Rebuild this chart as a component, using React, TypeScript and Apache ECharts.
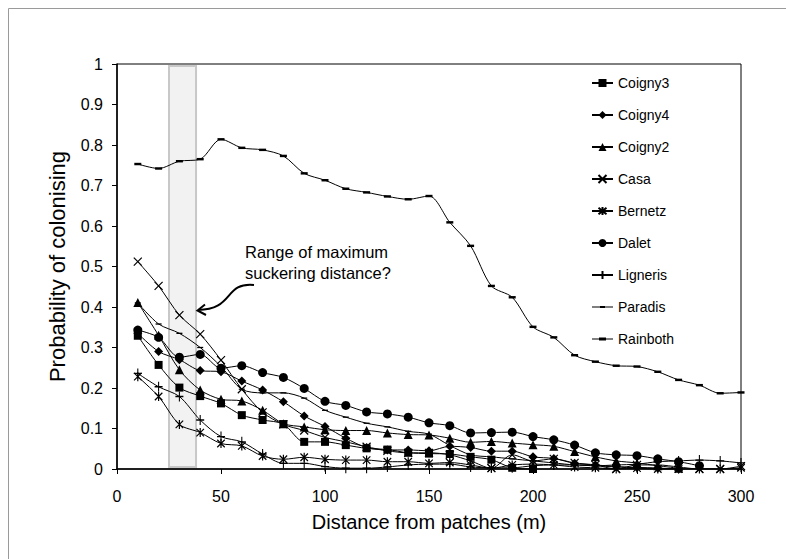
import React, { useEffect, useRef } from "react";
import * as echarts from "echarts";

const distances = [10, 20, 30, 40, 50, 60, 70, 80, 90, 100, 110, 120, 130, 140, 150, 160, 170, 180, 190, 200, 210, 220, 230, 240, 250, 260, 270, 280, 290, 300];

const coigny3 = [0.329, 0.257, 0.201, 0.18, 0.162, 0.133, 0.121, 0.111, 0.067, 0.067, 0.059, 0.051, 0.048, 0.04, 0.038, 0.037, 0.03, 0.023, 0.003, 0.0, null, null, null, null, null, null, null, null, null, null];
const coigny4 = [0.335, 0.29, 0.27, 0.243, 0.24, 0.217, 0.195, 0.166, 0.131, 0.105, 0.076, 0.053, 0.047, 0.047, 0.045, 0.056, 0.053, 0.044, 0.044, 0.03, 0.026, 0.014, 0.01, 0.006, 0.004, 0.002, 0.0, null, null, null];
const coigny2 = [0.411, 0.33, 0.245, 0.195, 0.172, 0.168, 0.145, 0.112, 0.104, 0.097, 0.095, 0.095, 0.089, 0.085, 0.084, 0.076, 0.066, 0.068, 0.064, 0.06, 0.056, 0.043, 0.03, 0.02, 0.015, 0.008, 0.002, null, null, null];
const casa = [0.512, 0.452, 0.38, 0.333, 0.269, 0.197, 0.14, 0.11, 0.095, 0.078, 0.067, 0.055, 0.045, 0.04, 0.04, 0.035, 0.02, 0.002, 0.035, 0.02, 0.025, 0.015, 0.01, 0.0, 0.01, 0.01, 0.005, 0.0, 0.0, 0.007];
const bernetz = [0.228, 0.179, 0.11, 0.09, 0.063, 0.057, 0.032, 0.024, 0.029, 0.024, 0.022, 0.022, 0.018, 0.018, 0.014, 0.016, 0.01, 0.002, 0.01, 0.012, 0.01, 0.005, 0.003, 0.0, 0.002, 0.0, 0.0, 0.0, 0.0, 0.003];
const dalet = [0.343, 0.325, 0.276, 0.283, 0.249, 0.255, 0.238, 0.226, 0.199, 0.167, 0.157, 0.141, 0.136, 0.128, 0.114, 0.107, 0.089, 0.09, 0.091, 0.08, 0.072, 0.059, 0.04, 0.035, 0.033, 0.025, 0.018, 0.008, null, null];
const ligneris = [0.236, 0.203, 0.179, 0.121, 0.08, 0.067, 0.037, 0.014, 0.014, 0.006, 0.002, 0.002, 0.005, 0.01, 0.012, 0.012, 0.005, 0.003, 0.003, 0.008, 0.01, 0.01, 0.008, 0.01, 0.012, 0.018, 0.02, 0.022, 0.02, 0.015];
const paradis = [0.41, 0.358, 0.335, 0.3, 0.253, 0.197, 0.188, 0.188, 0.175, 0.145, 0.128, 0.113, 0.104, 0.093, 0.086, 0.058, 0.035, 0.03, 0.025, 0.02, 0.015, 0.01, 0.008, 0.005, 0.003, 0.002, 0.0, null, null, null];
const rainboth = [0.753, 0.742, 0.76, 0.765, 0.814, 0.793, 0.788, 0.773, 0.73, 0.713, 0.692, 0.683, 0.673, 0.666, 0.674, 0.609, 0.551, 0.452, 0.424, 0.351, 0.325, 0.281, 0.265, 0.255, 0.253, 0.24, 0.22, 0.207, 0.187, 0.189];

const seriesNames = ["Coigny3", "Coigny4", "Coigny2", "Casa", "Bernetz", "Dalet", "Ligneris", "Paradis", "Rainboth"];
const seriesValues = [coigny3, coigny4, coigny2, casa, bernetz, dalet, ligneris, paradis, rainboth];

const xTicks = { min: 0, max: 300, interval: 50 };
const yTicks = { min: 0, max: 1, interval: 0.1 };
const shadedRange = { from: 25, to: 38, bottom: 0.005, top: 0.995 };

const xTitle = "Distance from patches (m)";
const yTitle = "Probability of colonising";
const annotation = "Range of maximum\nsuckering distance?";

const FONT = "'Liberation Sans', Arial, sans-serif";

const markerStyles: any[] = [
  { symbol: "rect", symbolSize: 8 },
  { symbol: "diamond", symbolSize: 9 },
  { symbol: "triangle", symbolSize: 9 },
  { symbol: "path://M0,0L10,10M10,0L0,10", symbolSize: 8, stroke: true },
  { symbol: "path://M0,0L10,10M10,0L0,10M5,-1L5,11", symbolSize: 9, stroke: true },
  { symbol: "circle", symbolSize: 9 },
  { symbol: "path://M5,0L5,10M0,5L10,5", symbolSize: [8, 10], stroke: true },
  { symbol: "path://M0,0L10,0L10,2.2L0,2.2Z", symbolSize: 6, legendIcon: "path://M0,4.5L21,4.5L21,5.5L0,5.5Z M8,3.9L13,3.9L13,6.1L8,6.1Z" },
  { symbol: "path://M0,0L10,0L10,3.5L0,3.5Z", symbolSize: 7, legendIcon: "path://M0,4.5L21,4.5L21,5.5L0,5.5Z M7,3.5L14,3.5L14,6.5L7,6.5Z" },
];

export default function App() {
  const ref = useRef<HTMLDivElement>(null);
  useEffect(() => {
    if (!ref.current) return;
    const chart = echarts.init(ref.current, null, { renderer: "svg" });
    const series: any[] = seriesNames.map((name, i) => {
      const m = markerStyles[i];
      const s: any = {
        name,
        type: "line",
        data: distances.map((d, j) => [d, seriesValues[i][j]]),
        smooth: 0.3,
        symbol: m.symbol,
        symbolSize: m.symbolSize,
        symbolKeepAspect: true,
        showSymbol: true,
        connectNulls: false,
        lineStyle: { color: "#000", width: 1 },
        itemStyle: m.stroke
          ? { color: "#000", borderColor: "#000", borderWidth: 1.2 }
          : { color: "#000", borderWidth: 0 },
        z: 3,
      };
      return s;
    });
    series[8].markArea = {
      silent: true,
      z: 1,
      itemStyle: { color: "#f2f2f2", borderColor: "#c8c8c8", borderWidth: 2 },
      label: { show: false },
      data: [[
        { xAxis: shadedRange.from, yAxis: shadedRange.bottom },
        { xAxis: shadedRange.to, yAxis: shadedRange.top },
      ]],
    };
    const legendData = seriesNames.map((name, i) =>
      markerStyles[i].legendIcon ? { name, icon: markerStyles[i].legendIcon } : { name }
    );
    chart.setOption({
      animation: false,
      backgroundColor: "#fff",
      textStyle: { fontFamily: FONT, color: "#000" },
      grid: {
        left: 117, right: 45, top: 64, bottom: 90,
        show: true, borderColor: "#000", borderWidth: 1, backgroundColor: "transparent",
      },
      legend: {
        orient: "vertical",
        left: 586,
        top: 71,
        itemWidth: 21,
        itemHeight: 10,
        itemGap: 18,
        textStyle: { fontFamily: FONT, fontSize: 14, color: "#000", lineHeight: 14 },
        data: legendData,
      },
      xAxis: {
        type: "value",
        min: xTicks.min, max: xTicks.max, interval: xTicks.interval,
        name: xTitle,
        nameLocation: "middle",
        nameGap: 43,
        nameTextStyle: { fontFamily: FONT, fontSize: 20, color: "#000" },
        axisLine: { show: true, lineStyle: { color: "#000", width: 1.5 } },
        axisTick: { show: true, inside: false, length: 5, lineStyle: { color: "#000" } },
        axisLabel: { fontFamily: FONT, fontSize: 16, color: "#000", margin: 19 },
        splitLine: { show: false },
      },
      yAxis: {
        type: "value",
        min: yTicks.min, max: yTicks.max, interval: yTicks.interval,
        name: yTitle,
        nameLocation: "middle",
        nameGap: 49,
        nameTextStyle: { fontFamily: FONT, fontSize: 22, color: "#000" },
        axisLine: { show: true, lineStyle: { color: "#000", width: 1.5 } },
        axisTick: { show: true, inside: false, length: 5, lineStyle: { color: "#000" } },
        axisLabel: { fontFamily: FONT, fontSize: 16, color: "#000", margin: 14 },
        splitLine: { show: false },
      },
      graphic: [
        {
          type: "rect",
          shape: { x: 8.5, y: 8.5, width: 800, height: 600 },
          style: { fill: "none", stroke: "#9a9a9a", lineWidth: 1 },
          silent: true,
        },
        {
          type: "text",
          x: 245,
          y: 241.5,
          style: {
            text: annotation,
            font: `16.5px ${FONT}`,
            fill: "#000",
            lineHeight: 21,
            verticalAlign: "top",
          },
          z: 10,
        },
        {
          type: "bezierCurve",
          shape: { x1: 254, y1: 285, cpx1: 224, cpy1: 282, cpx2: 234, cpy2: 310, x2: 198, y2: 310 },
          style: { stroke: "#000", lineWidth: 2, fill: "none" },
          z: 10,
        },
        {
          type: "polyline",
          shape: { points: [[205, 304.5], [197.5, 310.5], [206, 315]] },
          style: { stroke: "#000", lineWidth: 2, fill: "none" },
          z: 10,
        },
      ],
      series,
    });
    return () => chart.dispose();
  }, []);
  return (
    <div
      ref={ref}
      style={{ position: "fixed", left: 0, top: 0, width: 786, height: 559 }}
    />
  );
}
